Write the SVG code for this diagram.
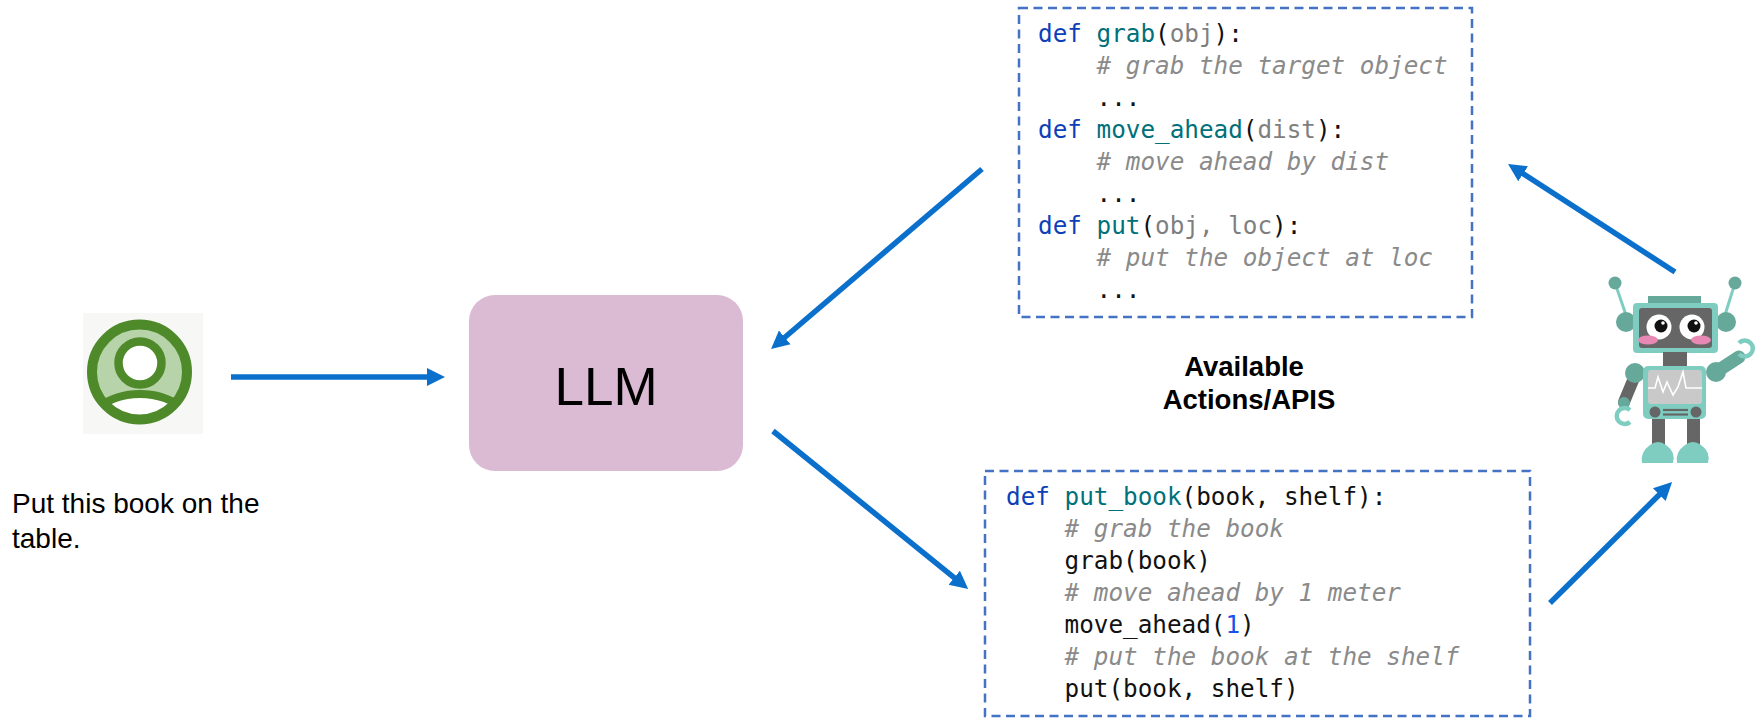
<svg xmlns="http://www.w3.org/2000/svg" width="1761" height="718" viewBox="0 0 1761 718">
  <style>
    .code { font-family: "DejaVu Sans Mono", "Liberation Mono", monospace; font-size: 24.3px; fill: #111111; }
    .kw { fill: #0d3fb8; }
    .fn { fill: #00707a; }
    .arg { fill: #7f7f7f; }
    .cm { fill: #8a8a8a; font-style: italic; }
    .num { fill: #1750eb; }
    .box { fill: none; stroke: #4472c4; stroke-width: 2.5; stroke-dasharray: 9 5.5; }
    .sans { font-family: "Liberation Sans", Arial, sans-serif; fill: #000000; }
    .conn { stroke: #0a70cc; stroke-width: 5.5; fill: none; marker-end: url(#arrow); }
  </style>
  <defs>
    <marker id="arrow" markerUnits="userSpaceOnUse" markerWidth="20" markerHeight="20" viewBox="0 -10 20 20" refX="1" refY="0" orient="auto">
      <path d="M0,-9 L18,0 L0,9 z" fill="#0a70cc"/>
    </marker>
    <clipPath id="userInner">
      <circle cx="139.5" cy="372" r="43"/>
    </clipPath>
  </defs>
  <rect width="1761" height="718" fill="#ffffff"/>

  <!-- user avatar and request -->
  <g id="user">
    <rect x="83" y="313" width="120" height="121" fill="#f7f7f5"/>
    <circle cx="139.5" cy="372" r="47.5" fill="#b7d3a9"/>
    <g clip-path="url(#userInner)">
      <circle cx="140" cy="466" r="72" fill="#ffffff" stroke="#4e8a2a" stroke-width="8"/>
    </g>
    <circle cx="139.5" cy="372" r="47.5" fill="none" stroke="#4e8a2a" stroke-width="10"/>
    <circle cx="140" cy="363" r="21.5" fill="#ffffff" stroke="#4e8a2a" stroke-width="8.5"/>
    <text class="sans" font-size="28" x="12" y="513">Put this book on the</text>
    <text class="sans" font-size="28" x="12" y="548">table.</text>
  </g>

  <!-- language model -->
  <g id="llm">
    <rect x="469" y="295" width="274" height="176" rx="26" ry="26" fill="#dbbbd4"/>
    <text class="sans" font-size="53" x="606" y="405" text-anchor="middle">LLM</text>
  </g>

  <!-- available actions -->
  <g id="apis">
    <rect class="box" x="1019" y="8" width="453" height="309"/>
    <text class="code" x="1038" y="42"><tspan class="kw">def</tspan> <tspan class="fn">grab</tspan>(<tspan class="arg">obj</tspan>):</text>
    <text class="code cm" x="1096.5" y="74"># grab the target object</text>
    <text class="code" x="1096.5" y="106">...</text>
    <text class="code" x="1038" y="138"><tspan class="kw">def</tspan> <tspan class="fn">move_ahead</tspan>(<tspan class="arg">dist</tspan>):</text>
    <text class="code cm" x="1096.5" y="170"># move ahead by dist</text>
    <text class="code" x="1096.5" y="202">...</text>
    <text class="code" x="1038" y="234"><tspan class="kw">def</tspan> <tspan class="fn">put</tspan>(<tspan class="arg">obj, loc</tspan>):</text>
    <text class="code cm" x="1096.5" y="266"># put the object at loc</text>
    <text class="code" x="1096.5" y="298">...</text>
  </g>

  <g id="apis-label">
    <text class="sans" font-size="27.5" font-weight="bold" x="1244" y="376" text-anchor="middle">Available</text>
    <text class="sans" font-size="27.5" font-weight="bold" x="1249" y="409" text-anchor="middle">Actions/APIS</text>
  </g>

  <!-- generated program -->
  <g id="program">
    <rect class="box" x="985" y="471" width="545" height="245"/>
    <text class="code" x="1006" y="505"><tspan class="kw">def</tspan> <tspan class="fn">put_book</tspan>(book, shelf):</text>
    <text class="code cm" x="1064.5" y="537"># grab the book</text>
    <text class="code" x="1064.5" y="569">grab(book)</text>
    <text class="code cm" x="1064.5" y="601"># move ahead by 1 meter</text>
    <text class="code" x="1064.5" y="633">move_ahead(<tspan class="num">1</tspan>)</text>
    <text class="code cm" x="1064.5" y="665"># put the book at the shelf</text>
    <text class="code" x="1064.5" y="697">put(book, shelf)</text>
  </g>

  <!-- robot -->
  <g id="robot">
    <!-- antennas -->
    <line x1="1615" y1="283" x2="1626" y2="315" stroke="#7ecdc0" stroke-width="3"/>
    <line x1="1735" y1="283" x2="1725" y2="315" stroke="#7ecdc0" stroke-width="3"/>
    <circle cx="1615" cy="283" r="6.5" fill="#66a99b"/>
    <circle cx="1735" cy="283" r="6.5" fill="#66a99b"/>
    <!-- ears and head -->
    <circle cx="1626" cy="322" r="10" fill="#66a99b"/>
    <circle cx="1726" cy="322" r="10" fill="#66a99b"/>
    <rect x="1648" y="296" width="53" height="9" fill="#66a99b"/>
    <rect x="1633" y="303" width="85" height="50" rx="4" fill="#7ecdc0"/>
    <rect x="1639" y="308" width="73" height="40" rx="3" fill="#666666"/>
    <circle cx="1659" cy="327" r="12.5" fill="#ffffff"/>
    <circle cx="1692" cy="327" r="12.5" fill="#ffffff"/>
    <circle cx="1661" cy="326" r="6.5" fill="#111111"/>
    <circle cx="1694" cy="326" r="6.5" fill="#111111"/>
    <circle cx="1663" cy="323" r="1.8" fill="#ffffff"/>
    <circle cx="1696" cy="323" r="1.8" fill="#ffffff"/>
    <ellipse cx="1648" cy="340" rx="10" ry="4.5" fill="#e889b5"/>
    <ellipse cx="1701" cy="340" rx="10" ry="4.5" fill="#e889b5"/>
    <!-- neck -->
    <rect x="1663" y="352" width="24" height="16" fill="#666666"/>
    <!-- arms -->
    <line x1="1634" y1="378" x2="1624" y2="402" stroke="#666666" stroke-width="12" stroke-linecap="round"/>
    <circle cx="1624" cy="403" r="6" fill="#66a99b"/>
    <path d="M1630,410 A8,8 0 1 0 1630,422" fill="none" stroke="#7ecdc0" stroke-width="4.5"/>
    <line x1="1716" y1="372" x2="1739" y2="357" stroke="#66a99b" stroke-width="13" stroke-linecap="round"/>
    <path d="M1739,343 A8,8 0 1 1 1739,354" fill="none" stroke="#7ecdc0" stroke-width="4.5"/>
    <circle cx="1635" cy="373" r="10" fill="#66a99b"/>
    <circle cx="1716" cy="372" r="10" fill="#66a99b"/>
    <!-- legs and feet -->
    <rect x="1652" y="417" width="13" height="30" fill="#666666"/>
    <rect x="1687" y="417" width="13" height="30" fill="#666666"/>
    <path d="M1642,463 Q1640,452 1650,445 Q1658,439 1666,445 Q1676,452 1673,463 z" fill="#7ecdc0"/>
    <path d="M1677,463 Q1675,452 1685,445 Q1693,439 1701,445 Q1711,452 1708,463 z" fill="#7ecdc0"/>
    <!-- body -->
    <rect x="1643" y="366" width="63" height="53" rx="5" fill="#7ecdc0"/>
    <rect x="1648" y="370" width="54" height="34" rx="3" fill="#c9c9c9"/>
    <polyline points="1648,388 1655,388 1658,377 1663,392 1667,382 1673,395 1678,387 1683,372 1686,388 1702,388" fill="none" stroke="#ffffff" stroke-width="1.6"/>
    <circle cx="1655" cy="412" r="5.5" fill="#666666"/>
    <circle cx="1696" cy="412" r="5.5" fill="#666666"/>
    <line x1="1663" y1="410" x2="1688" y2="410" stroke="#666666" stroke-width="2.2"/>
    <line x1="1663" y1="414.5" x2="1688" y2="414.5" stroke="#666666" stroke-width="2.2"/>
  </g>

  <!-- connectors -->
  <g id="connectors">
    <line class="conn" x1="231" y1="377" x2="428" y2="377"/>
    <line class="conn" x1="982" y1="169" x2="784" y2="338"/>
    <line class="conn" x1="773" y1="431" x2="955" y2="578.3"/>
    <line class="conn" x1="1550" y1="603" x2="1660" y2="494"/>
    <line class="conn" x1="1675" y1="272" x2="1522.3" y2="173.2"/>
  </g>
</svg>
